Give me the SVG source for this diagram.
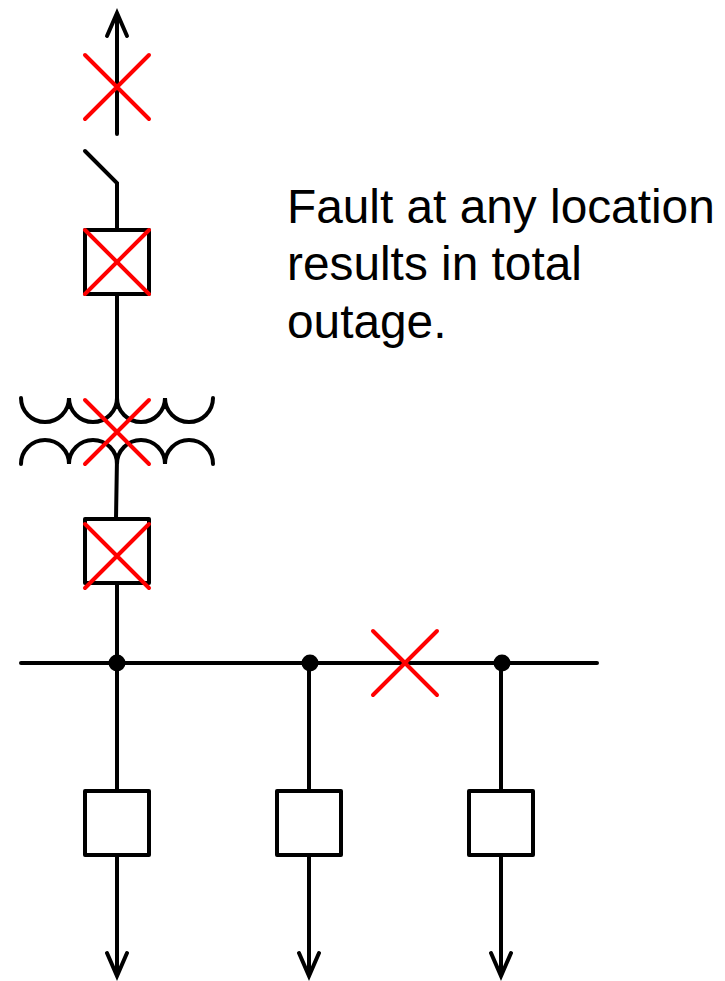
<svg xmlns="http://www.w3.org/2000/svg" width="725" height="981" viewBox="0 0 725 981">
<style>
.l{fill:none;stroke:#000;stroke-width:4;stroke-linecap:round;stroke-linejoin:miter}
.b{fill:#fff;stroke:#000;stroke-width:4;stroke-linejoin:round}
.x{fill:none;stroke:#f00;stroke-width:4;stroke-linecap:round}
.t{font-family:"Liberation Sans",Arial,sans-serif;font-size:47.8px;fill:#000}
</style>
<rect width="725" height="981" fill="#fff"/>
<g id="connectors">
<path class="l" d="M117 134V13M107 36L117 13L127 36"/>
<path class="l" d="M85 151L117 183V230"/>
<path class="l" d="M117 294V404"/>
<path class="l" d="M117 458L116 519"/>
<path class="l" d="M117 583V663"/>
<path class="l" d="M21 663H597"/>
<path class="l" d="M117 663V791M117 855V976M107 953L117 976L127 953"/>
<path class="l" d="M309 663V791M309 855V976M299 953L309 976L319 953"/>
<path class="l" d="M501 663V791M501 855V976M491 953L501 976L511 953"/>
</g>
<g id="transformer">
<path class="l" d="M21 398A24 24 0 0 0 69 398A24 24 0 0 0 117 398A24 24 0 0 0 165 398A24 24 0 0 0 213 398"/>
<path class="l" d="M21 464A24 24 0 0 1 69 464A24 24 0 0 1 117 464A24 24 0 0 1 165 464A24 24 0 0 1 213 464"/>
</g>
<g id="breaker-1"><rect class="b" x="85" y="230" width="64" height="64"/></g>
<g id="breaker-2"><rect class="b" x="85" y="519" width="64" height="64"/></g>
<g id="breaker-3"><rect class="b" x="85" y="791" width="64" height="64"/></g>
<g id="breaker-4"><rect class="b" x="277" y="791" width="64" height="64"/></g>
<g id="breaker-5"><rect class="b" x="469" y="791" width="64" height="64"/></g>
<g id="junction-1"><circle cx="117" cy="663" r="8.5"/></g>
<g id="junction-2"><circle cx="310" cy="663" r="8.5"/></g>
<g id="junction-3"><circle cx="502" cy="663" r="8.5"/></g>
<g id="faults">
<path class="x" d="M85 55L149 119M149 55L85 119"/>
<path class="x" d="M85 230L149 294M149 230L85 294"/>
<path class="x" d="M85 400L149 464M149 400L85 464"/>
<path class="x" d="M85 524L149 588M149 524L85 588"/>
<path class="x" d="M373 631L437 695M437 631L373 695"/>
</g>
<g id="label">
<text class="t" x="287" y="222.5">Fault at any location</text>
<text class="t" x="287" y="280">results in total</text>
<text class="t" x="287" y="337.5">outage.</text>
</g>
</svg>
